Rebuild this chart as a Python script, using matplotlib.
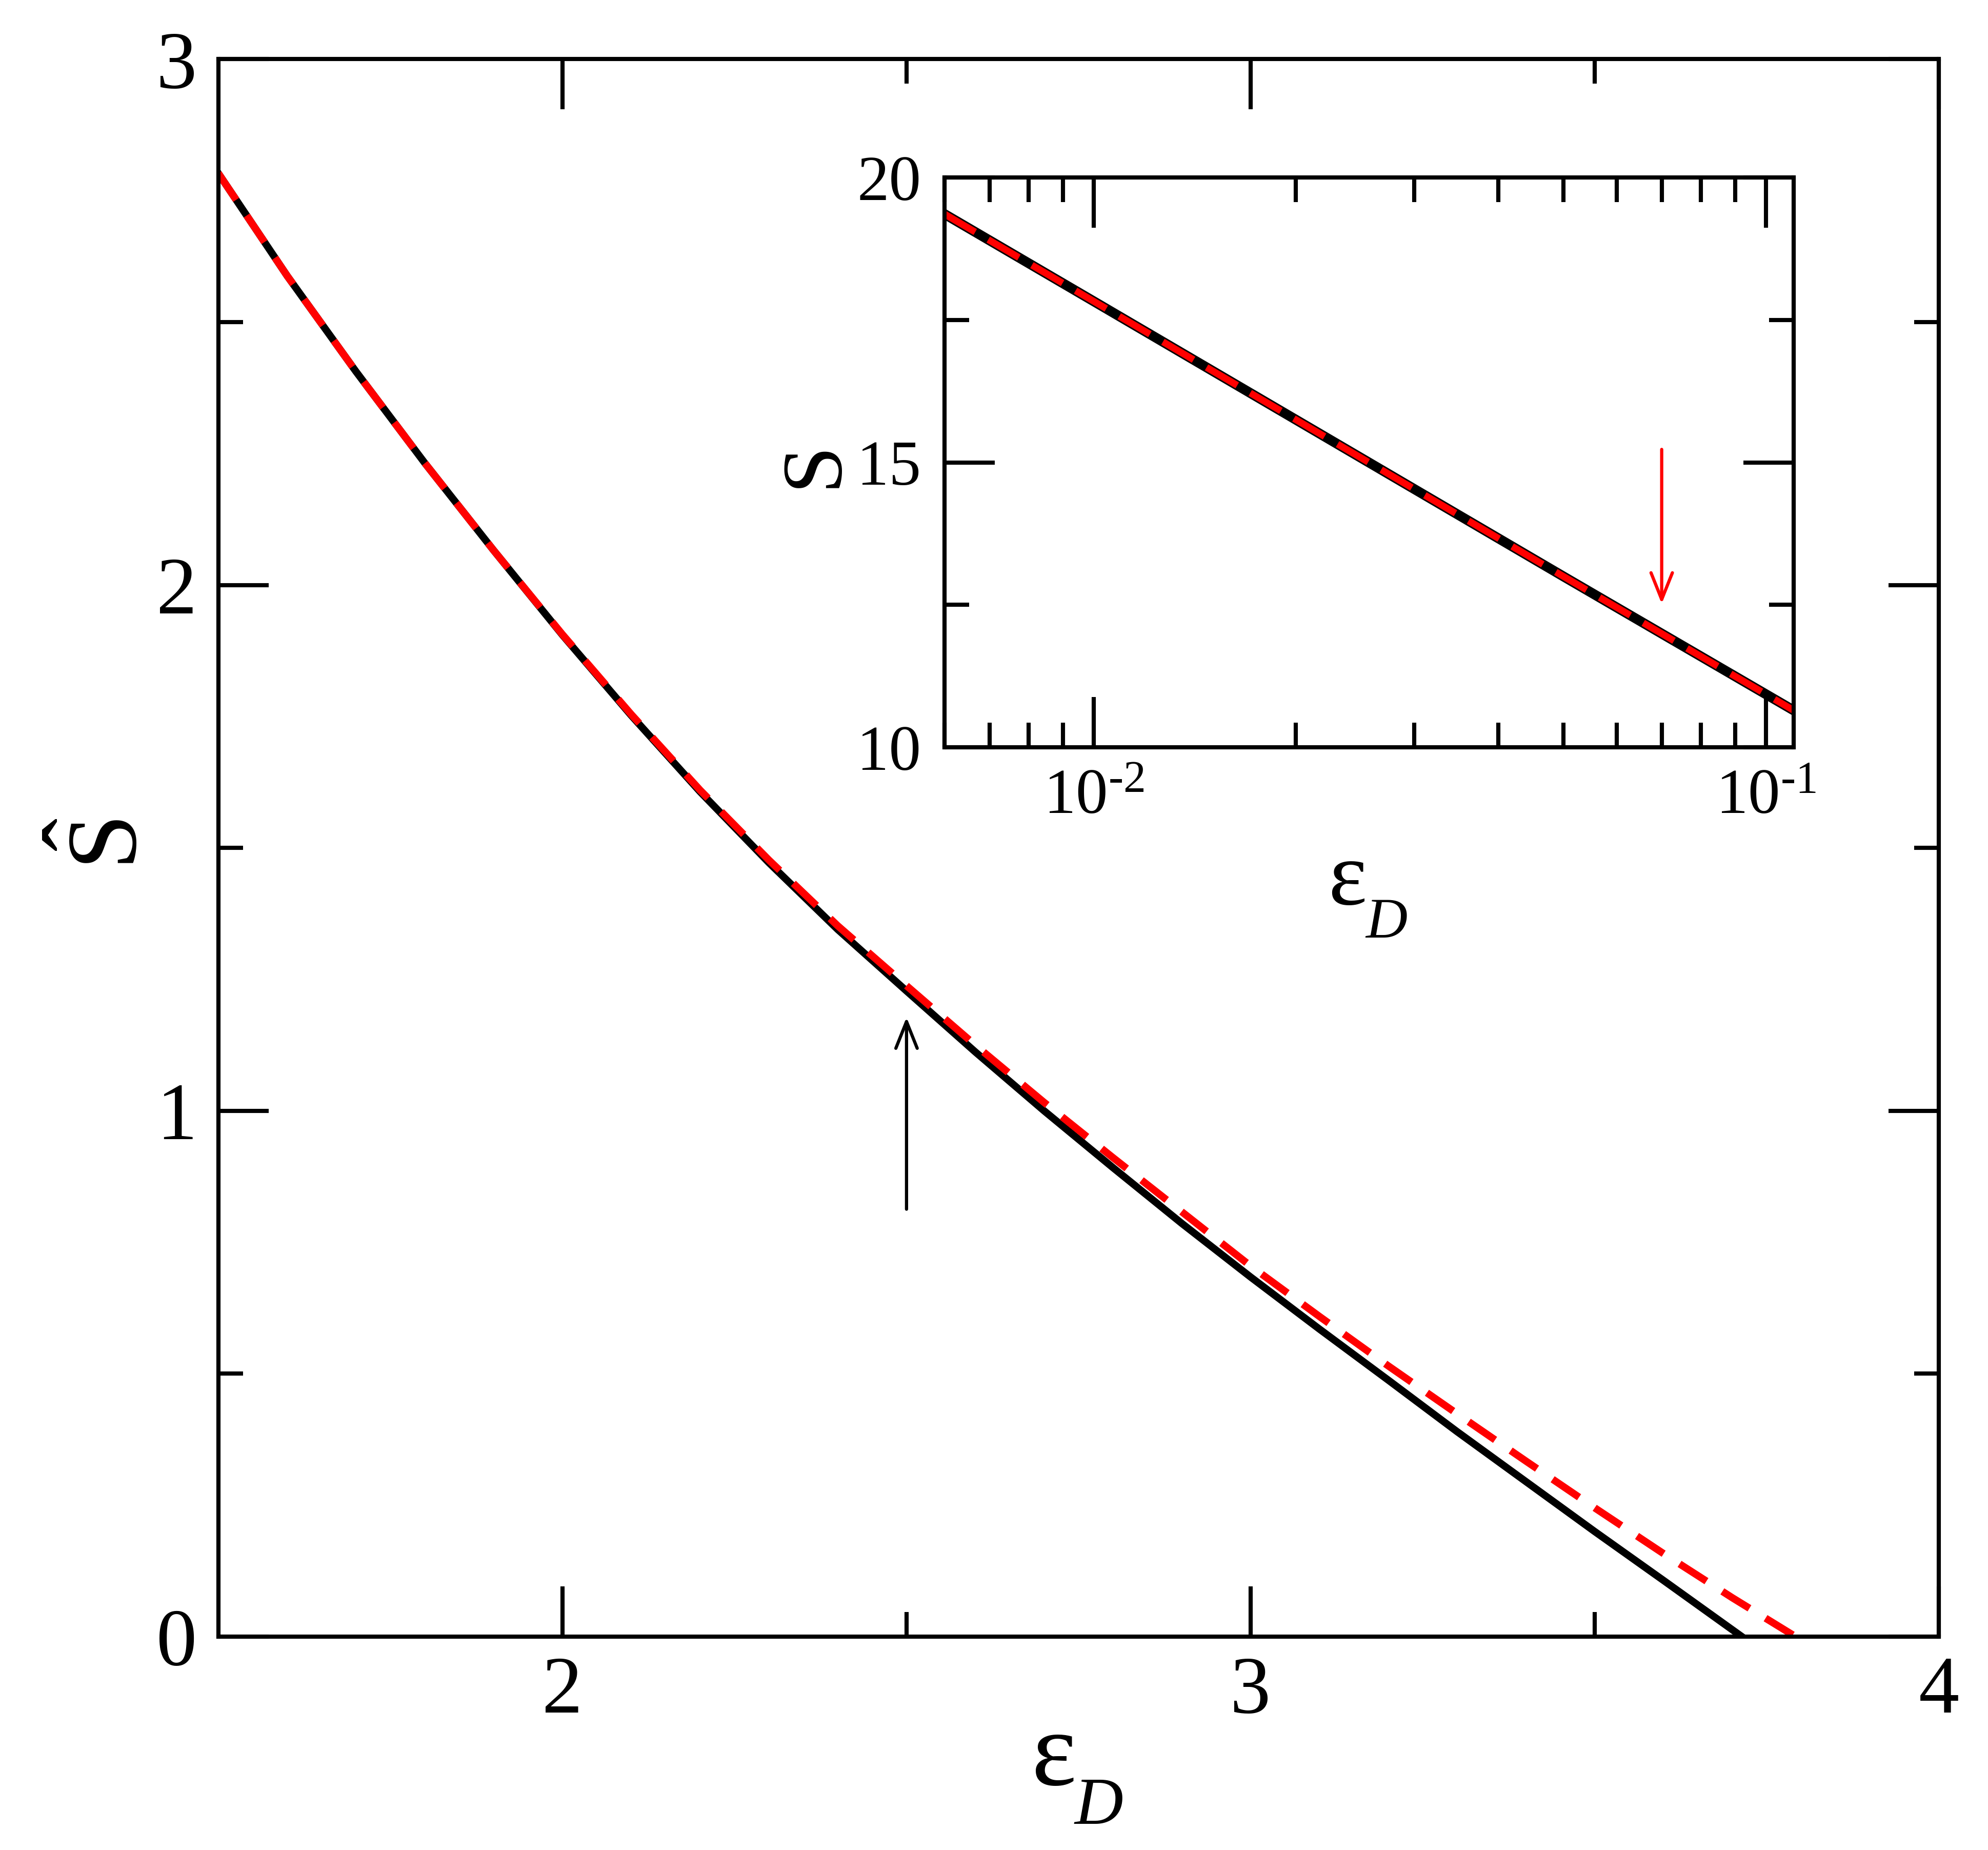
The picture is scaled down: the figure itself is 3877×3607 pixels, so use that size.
import matplotlib
matplotlib.use('Agg')
import matplotlib.pyplot as plt
from matplotlib.ticker import MultipleLocator, FixedLocator, LogLocator, NullFormatter, FixedFormatter

plt.rcParams['font.family'] = ['Liberation Serif', 'DejaVu Serif']
plt.rcParams['mathtext.fontset'] = 'custom'
plt.rcParams['mathtext.rm'] = 'Liberation Serif'
plt.rcParams['mathtext.it'] = 'Liberation Serif:italic'

# main panel: S-hat vs eps_D (black = full, red dashed = approximation)
eps_black = [1.5, 1.6, 1.7, 1.8, 1.9, 2.0, 2.1, 2.2, 2.3, 2.4, 2.5, 2.6, 2.7,
             2.8, 2.9, 3.0, 3.1, 3.2, 3.3, 3.4, 3.5, 3.6, 3.714]
s_black = [2.783, 2.588, 2.406, 2.232, 2.066, 1.905, 1.752, 1.607, 1.472, 1.345,
           1.228, 1.112, 1.0, 0.892, 0.786, 0.684, 0.585, 0.488, 0.390, 0.295,
           0.200, 0.107, 0.0]
eps_red = [1.5, 1.6, 1.7, 1.8, 1.9, 2.0, 2.1, 2.2, 2.3, 2.4, 2.5, 2.6, 2.7,
           2.8, 2.9, 3.0, 3.1, 3.2, 3.3, 3.4, 3.5, 3.6, 3.7, 3.792]
s_red = [2.783, 2.588, 2.406, 2.232, 2.066, 1.906, 1.754, 1.610, 1.477, 1.352,
         1.238, 1.125, 1.016, 0.911, 0.808, 0.705, 0.609, 0.515, 0.424, 0.334,
         0.245, 0.158, 0.074, 0.0]

# inset: S vs eps_D on log axis
eps_in = [0.006, 0.01, 0.02, 0.05, 0.11]
s_in_black = [19.36, 17.83, 15.75, 13.00, 10.65]
s_in_red = [19.36, 17.83, 15.75, 13.00, 10.65]
inset_ticklabels = ['10$^{\u2010\\mathregular{2}}$', '10$^{\u2010\\mathregular{1}}$']

arrow_main = (2.5, 0.813, 1.178)   # x, tail y, tip y
arrow_inset = (0.07, 15.23, 12.52)

W, H = 3878, 3607
SPINE = 1.95

fig = plt.figure(figsize=(W / 300, H / 300), dpi=300)
ax = fig.add_axes([0.1098, 0.1153, 0.8652, 0.8527])

ax.plot(eps_black, s_black, color='black', lw=3.4)
ax.plot(eps_red, s_red, color='red', lw=3.4, dashes=(4.4, 2.6))
ax.annotate('', xy=(arrow_main[0], arrow_main[2]), xytext=(arrow_main[0], arrow_main[1]),
            arrowprops=dict(arrowstyle='->,head_length=1.25,head_width=0.5',
                            color='black', lw=1.5, shrinkA=0, shrinkB=0))

ax.set_xlim(1.5, 4)
ax.set_ylim(0, 3)
ax.xaxis.set_major_locator(FixedLocator([2, 3, 4]))
ax.xaxis.set_minor_locator(FixedLocator([2.5, 3.5]))
ax.yaxis.set_major_locator(MultipleLocator(1))
ax.yaxis.set_minor_locator(MultipleLocator(0.5))
ax.tick_params(which='both', direction='in', top=True, right=True, width=SPINE)
ax.tick_params(which='major', length=23.5, labelsize=38)
ax.tick_params(which='minor', length=11.5)
ax.tick_params(axis='x', pad=9)
ax.tick_params(axis='y', pad=10)
for sp in ax.spines.values():
    sp.set_linewidth(SPINE)

# axis labels (eps with lowered italic D, S with hat)
fig.text(2056 / W, 1 - 3480 / H, 'ε', fontsize=50, ha='center', va='baseline')
fig.text(2095 / W, 1 - 3556 / H, 'D', fontsize=31.5, style='italic', ha='left', va='baseline')
fig.text(266 / W, 1 - 1645 / H, r'$\hat{\mathrm{S}}$', fontsize=47, rotation=90,
         rotation_mode='anchor', ha='center', va='baseline')

# inset
ins = fig.add_axes([0.475, 0.596, 0.427, 0.308])
ins.plot(eps_in, s_in_black, color='black', lw=4.6)
ins.plot(eps_in, s_in_red, color='red', lw=3.2, dashes=(5.2, 2.2))
ins.annotate('', xy=(arrow_inset[0], arrow_inset[2]), xytext=(arrow_inset[0], arrow_inset[1]),
             arrowprops=dict(arrowstyle='->,head_length=1.25,head_width=0.5',
                             color='red', lw=1.5, shrinkA=0, shrinkB=0))
ins.set_xscale('log')
ins.set_xlim(0.006, 0.11)
ins.set_ylim(10, 20)
ins.xaxis.set_major_locator(FixedLocator([0.01, 0.1]))
ins.xaxis.set_major_formatter(FixedFormatter(inset_ticklabels))
ins.xaxis.set_minor_locator(LogLocator(base=10, subs=range(2, 10)))
ins.xaxis.set_minor_formatter(NullFormatter())
ins.yaxis.set_major_locator(MultipleLocator(5))
ins.yaxis.set_minor_locator(MultipleLocator(2.5))
ins.tick_params(which='both', direction='in', top=True, right=True, width=SPINE)
ins.tick_params(which='major', length=23.5, labelsize=30)
ins.tick_params(which='minor', length=11.5)
ins.tick_params(axis='x', pad=10)
ins.tick_params(axis='y', pad=11)
for sp in ins.spines.values():
    sp.set_linewidth(SPINE)

fig.text(2628 / W, 1 - 1763 / H, 'ε', fontsize=43, ha='center', va='baseline')
fig.text(2663 / W, 1 - 1828 / H, 'D', fontsize=27, style='italic', ha='left', va='baseline')
fig.text(1630 / W, 1 - 905 / H, 'S', fontsize=40, rotation=90, rotation_mode='anchor',
         ha='center', va='baseline')

fig.savefig('out.png', dpi=300)
